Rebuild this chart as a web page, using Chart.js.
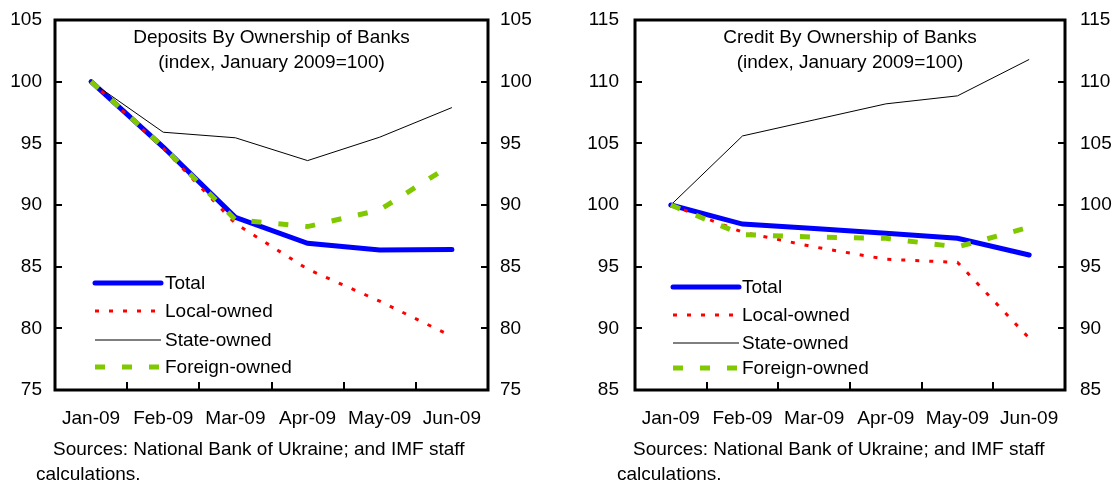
<!DOCTYPE html>
<html>
<head>
<meta charset="utf-8">
<script src="https://cdn.jsdelivr.net/npm/chart.js@4.4.1/dist/chart.umd.min.js"></script>
<style>
  body { margin: 0; background: #fff; width: 1112px; height: 480px; position: relative; overflow: hidden;
         font-family: Arial, "Liberation Sans", sans-serif; }
  .box { position: absolute; top: 0; width: 556px; height: 480px; }
  .src { position: absolute; font-size: 19px; color: #000; white-space: nowrap; line-height: 19px; }
</style>
</head>
<body>
<div class="box" style="left:0"><canvas id="depChart" width="556" height="480"></canvas></div>
<div class="box" style="left:556px"><canvas id="credChart" width="556" height="480"></canvas></div>
<div class="src" style="left:53px;top:439px">Sources: National Bank of Ukraine; and IMF staff</div>
<div class="src" style="left:36px;top:464px">calculations.</div>
<div class="src" style="left:633px;top:439px">Sources: National Bank of Ukraine; and IMF staff</div>
<div class="src" style="left:617px;top:464px">calculations.</div>
<script>
const months = ['Jan-09', 'Feb-09', 'Mar-09', 'Apr-09', 'May-09', 'Jun-09'];
const seriesNames = ['Total', 'Local-owned', 'State-owned', 'Foreign-owned'];

// deposits, index Jan 2009 = 100
const depTotal   = [100, 94.7, 89.0, 86.9, 86.35, 86.4];
const depLocal   = [100, 94.6, 88.5, 84.8, 82.2, 79.35];
const depState   = [100, 95.9, 95.45, 93.6, 95.5, 97.9];
const depForeign = [100, 94.7, 88.8, 88.25, 89.6, 93.3];

// credit, index Jan 2009 = 100
const credTotal   = [100, 98.45, 98.1, 97.7, 97.3, 95.95];
const credLocal   = [100, 97.8, 96.6, 95.6, 95.35, 89.2];
const credState   = [100, 105.6, 106.9, 108.2, 108.85, 111.8];
const credForeign = [100, 97.6, 97.4, 97.3, 96.6, 98.2];

Chart.defaults.font.family = 'Arial, "Liberation Sans", sans-serif';
Chart.defaults.font.size = 19;
Chart.defaults.color = '#000';

function makeDatasets(total, local, state, foreign) {
    return [
        { label: seriesNames[0], data: total, borderColor: '#0000ff', borderWidth: 5, borderCapStyle: 'round', order: 3 },
        { label: seriesNames[1], data: local, borderColor: '#ff0000', borderWidth: 3, borderDash: [4, 10], order: 2 },
        { label: seriesNames[2], data: state, borderColor: '#000000', borderWidth: 1, order: 1 },
        { label: seriesNames[3], data: foreign, borderColor: '#80c800', borderWidth: 5, borderDash: [10, 17], order: 0 }
    ].map(ds => Object.assign(ds, { pointRadius: 0, tension: 0, fill: false }));
}

// frame, inward tick marks, title and legend drawn on the canvas
const framePlugin = {
    id: 'frame',
    afterDatasetsDraw(chart, args, opts) {
        const ctx = chart.ctx;
        const a = chart.chartArea;
        const y = chart.scales.y;
        const x = chart.scales.x;
        ctx.save();
        ctx.strokeStyle = '#000';
        ctx.lineWidth = 2;
        ctx.beginPath();
        y.ticks.forEach(t => {
            const py = Math.round(y.getPixelForValue(t.value));
            ctx.moveTo(a.left, py); ctx.lineTo(a.left + 7, py);
            ctx.moveTo(a.right, py); ctx.lineTo(a.right - 7, py);
        });
        for (let i = 1; i < months.length; i++) {
            const px = Math.round((x.getPixelForValue(i - 1) + x.getPixelForValue(i)) / 2);
            ctx.moveTo(px, a.bottom); ctx.lineTo(px, a.bottom - 8);
        }
        ctx.stroke();
        ctx.lineWidth = 3;
        ctx.strokeRect(a.left, a.top, a.right - a.left, a.bottom - a.top);

        // title
        ctx.fillStyle = '#000';
        ctx.font = '19px Arial, "Liberation Sans", sans-serif';
        ctx.textAlign = 'center';
        ctx.textBaseline = 'middle';
        const cx = (a.left + a.right) / 2;
        ctx.fillText(opts.title[0], cx, 38);
        ctx.fillText(opts.title[1], cx, 63);

        // legend
        ctx.textAlign = 'left';
        chart.data.datasets.forEach((ds, i) => {
            const ly = a.top + opts.legendRows[i];
            ctx.beginPath();
            ctx.strokeStyle = ds.borderColor;
            ctx.lineWidth = ds.borderWidth;
            ctx.lineCap = ds.borderCapStyle || 'butt';
            ctx.setLineDash(ds.borderDash || []);
            ctx.moveTo(a.left + opts.legendX[0], ly);
            ctx.lineTo(a.left + opts.legendX[1], ly);
            ctx.stroke();
            ctx.setLineDash([]);
            ctx.fillText(ds.label, a.left + opts.legendX[2], ly + 1);
        });
        ctx.restore();
    }
};

function buildChart(id, datasets, min, max, widths, pads, title, legendX, legendRows) {
    const yAxis = (pos, w, pad) => ({
        type: 'linear',
        position: pos,
        min: min,
        max: max,
        grid: { display: false, drawTicks: false },
        border: { display: false },
        ticks: { stepSize: 5, padding: pad },
        afterFit: (s) => { s.width = w; s.paddingTop = 0; s.paddingBottom = 0; }
    });
    return new Chart(document.getElementById(id), {
        type: 'line',
        data: { labels: months, datasets: datasets },
        plugins: [framePlugin],
        options: {
            responsive: false,
            animation: false,
            layout: { padding: { top: 20, bottom: 0, left: 0, right: 0 } },
            plugins: {
                legend: { display: false },
                tooltip: { enabled: false },
                frame: { title: title, legendX: legendX, legendRows: legendRows }
            },
            scales: {
                x: {
                    offset: true,
                    grid: { display: false, drawTicks: false },
                    border: { display: false },
                    ticks: { padding: 17, maxRotation: 0, autoSkip: false },
                    afterFit: (s) => { s.height = 90; }
                },
                y: yAxis('left', widths[0], pads[0]),
                y2: yAxis('right', widths[1], pads[1])
            }
        }
    });
}

buildChart('depChart', makeDatasets(depTotal, depLocal, depState, depForeign), 75, 105,
    [55, 68], [13, 12],
    ['Deposits By Ownership of Banks', '(index, January 2009=100)'],
    [40, 106, 110], [263, 291, 320, 347]);

buildChart('credChart', makeDatasets(credTotal, credLocal, credState, credForeign), 85, 115,
    [79, 47], [16, 15],
    ['Credit By Ownership of Banks', '(index, January 2009=100)'],
    [38, 104, 107], [267, 295, 323, 348]);
</script>
</body>
</html>
